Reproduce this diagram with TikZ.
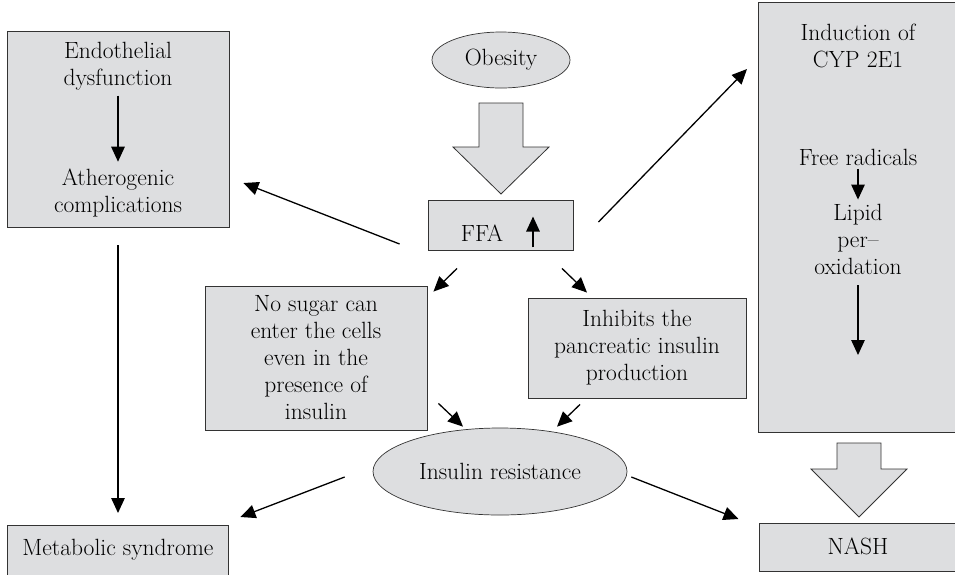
\documentclass[tikz,border=0pt]{standalone}
\usepackage{fontspec}
\usetikzlibrary{arrows.meta,shapes.geometric}
\definecolor{boxgray}{RGB}{221,222,224}
\newcommand{\downblock}[4]{% x, top of shaft, start of head, tip
  \draw[blockarr] ({#1-22},#2) -- ({#1+22},#2) -- ({#1+22},#3) -- ({#1+48},#3)
    -- (#1,#4) -- ({#1-48},#3) -- ({#1-22},#3) -- cycle;}

\begin{document}
\begin{tikzpicture}[x=1pt,y=-1pt,font=\fontsize{23.5}{27}\selectfont,
  box/.style={draw=black!80,fill=boxgray,line width=0.9pt,align=center,inner sep=0pt},
  oval/.style={ellipse,draw=black!80,fill=boxgray,line width=0.7pt,inner sep=0pt},
  txt/.style={inner sep=0pt,align=center},
  arr/.style={-{Triangle[length=15pt,width=13.5pt]},line width=1.3pt},
  blockarr/.style={draw=black!80,fill=boxgray,line width=0.8pt,line join=miter}]
  \useasboundingbox (0,0) rectangle (955,574);
  % left column
  \node[box,minimum width=222,minimum height=196] (endo) at (118,129) {};
  \node[txt] (endoa) at (118,66) {Endothelial\\dysfunction};
  \node[txt] (endob) at (118,193) {Atherogenic\\complications};
  \node[box,minimum width=221,minimum height=80,anchor=north] (meta) at (118,525) {};
  \node[txt] (metat) at (118,550) {Metabolic syndrome};
  % middle
  \node[oval,minimum width=138,minimum height=56] (obes) at (501,60) {Obesity};
  \downblock{501}{103}{147}{194}
  \node[box,minimum width=145,minimum height=50] (ffa) at (500.5,225) {};
  \node[txt] (ffat) at (482,233) {FFA};
  \node[box,minimum width=222,minimum height=144] (nosugar) at (316,358)
    {No sugar can\\enter the cells\\even in the\\presence of\\insulin};
  \node[box,minimum width=218,minimum height=100] (inhib) at (637,348)
    {Inhibits the\\pancreatic insulin\\production};
  \node[oval,minimum width=254,minimum height=87] (ir) at (500,471.5) {Insulin resistance};
  % right column
  \node[box,minimum width=260,minimum height=430.5,anchor=north west] (cyp) at (758,1.5) {};
  \node[txt] (induct) at (858,45.5) {Induction of\\CYP 2E1};
  \node[txt] (free) at (858,157) {Free radicals};
  \node[txt] (lipid) at (858,239) {Lipid\\per--\\oxidation};
  \coordinate (cypend) at (858,355);
  \downblock{859}{443}{469}{517}
  \node[box,minimum width=260,minimum height=48,anchor=north west] (nash) at (758.5,523) {};
  \node[txt] (nasht) at (858,546) {NASH};
  % arrows
  \draw[arr,shorten <=5.5pt,shorten >=7pt] (endoa) -- (endob);
  \draw[arr] ([shift={(0,18)}]endo.south) -- ([shift={(0,-12)}]meta.north);
  \draw[arr] ([shift={(32.5,-3)}]ffa.south) -- ([shift={(32.5,17)}]ffa.north);
  \draw[arr] ([shift={(-28,19)}]ffa.west) -- ([shift={(14,54)}]endo.east);
  \draw[arr] ([shift={(25,-3)}]ffa.east) -- ([shift={(-11,67.5)}]cyp.north west);
  \draw[arr] ([shift={(-43.5,18)}]ffa.south) -- ([shift={(6,6)}]nosugar.north east);
  \draw[arr] ([shift={(61.5,18)}]ffa.south) -- ([shift={(-50,-5)}]inhib.north);
  \draw[arr] ([shift={(11,-27)}]nosugar.south east) -- ([shift={(-37,-1)}]ir.north);
  \draw[arr] ([shift={(-57,6)}]inhib.south) -- ([shift={(57,-1)}]ir.north);
  \draw[arr] ([shift={(-28,5.5)}]ir.west) -- ([shift={(11.5,-8)}]meta.north east);
  \draw[arr] ([shift={(4,5.5)}]ir.east) -- ([shift={(-20,-4)}]nash.north west);
  \draw[arr,shorten <=3.5pt,shorten >=4pt] (free) -- (lipid);
  \draw[arr,shorten <=11pt] (lipid) -- (cypend);
\end{tikzpicture}
\end{document}
